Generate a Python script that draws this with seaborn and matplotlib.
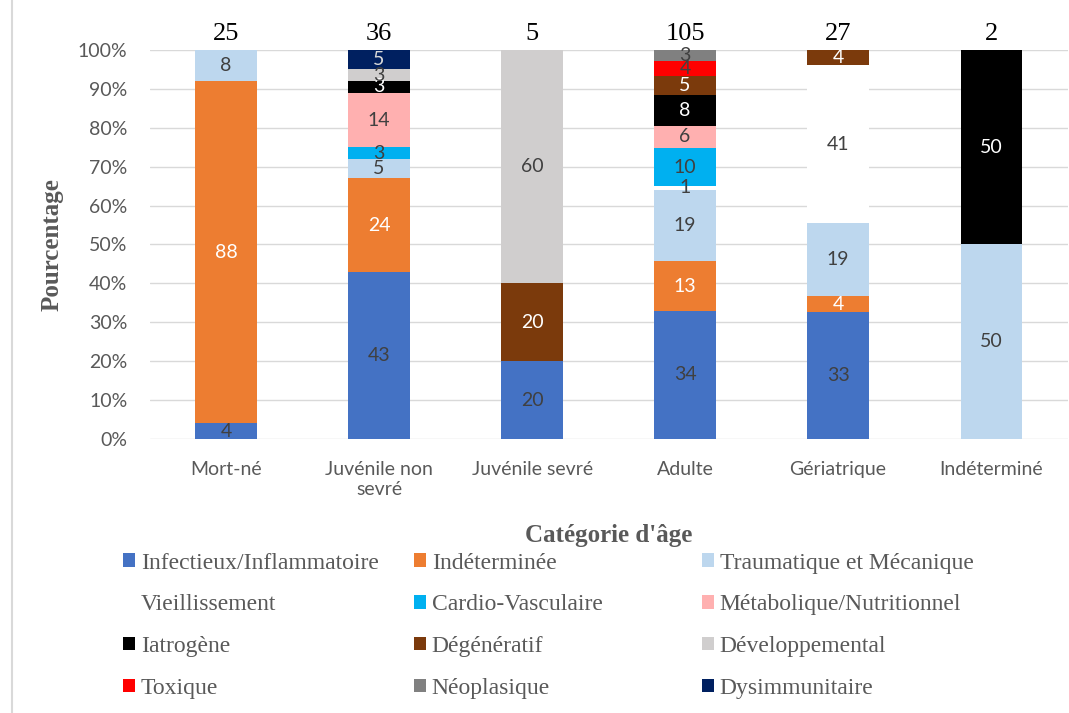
import numpy as np
import matplotlib.pyplot as plt
import matplotlib.patches as mpatches
from matplotlib.lines import Line2D
from matplotlib.ticker import PercentFormatter
import seaborn as sns

# catégories d'âge et effectifs (nombre de cas) affichés au-dessus des barres
categories = ['Mort-né', 'Juvénile non\nsevré', 'Juvénile sevré', 'Adulte', 'Gériatrique', 'Indéterminé']
effectifs = [25, 36, 5, 105, 27, 2]

causes = ['Infectieux/Inflammatoire', 'Indéterminée', 'Traumatique et Mécanique',
          'Vieillissement', 'Cardio-Vasculaire', 'Métabolique/Nutritionnel',
          'Iatrogène', 'Dégénératif', 'Développemental',
          'Toxique', 'Néoplasique', 'Dysimmunitaire']

# pourcentages par cause (un élément par catégorie d'âge)
infectieux = [4, 43, 20, 34, 33, 0]
indeterminee = [88, 24, 0, 13, 4, 0]
traumatique = [8, 5, 0, 19, 19, 50]
vieillissement = [0, 0, 0, 1, 41, 0]
cardio = [0, 3, 0, 10, 0, 0]
metabolique = [0, 14, 0, 6, 0, 0]
iatrogene = [0, 3, 0, 8, 0, 50]
degeneratif = [0, 0, 20, 5, 4, 0]
developpemental = [0, 3, 60, 0, 0, 0]
toxique = [0, 0, 0, 4, 0, 0]
neoplasique = [0, 0, 0, 3, 0, 0]
dysimmunitaire = [0, 5, 0, 0, 0, 0]

couleurs = ['#4472C4', '#ED7D31', '#BDD7EE', '#FFFFFF', '#00B0F0', '#FFB0B0',
            '#000000', '#7B3A0C', '#D0CECE', '#FF0000', '#808080', '#002060']
couleurs_texte = ['#404040', '#FFFFFF', '#404040', '#404040', '#404040', '#404040',
                  '#FFFFFF', '#FFFFFF', '#404040', '#404040', '#404040', '#D9D9D9']

series = [infectieux, indeterminee, traumatique, vieillissement, cardio, metabolique,
          iatrogene, degeneratif, developpemental, toxique, neoplasique, dysimmunitaire]

pct = np.array(series, dtype=float)
# comme dans Excel (100 % empilé) : chaque colonne est ramenée à 100 %
pct_norm = pct / pct.sum(axis=0)

sns.set_theme(style='white')
plt.rcParams['font.family'] = ['Lato', 'DejaVu Sans']

fig = plt.figure(figsize=(10.69, 7.13), dpi=100)
ax = fig.add_axes([0.1399, 0.3843, 0.8588, 0.5456])

bas = np.zeros(len(categories))
for i, cause in enumerate(causes):
    sns.barplot(x=categories, y=pct_norm[i], bottom=bas.copy(), color=couleurs[i],
                order=categories, width=0.4, errorbar=None, saturation=1,
                linewidth=0, ax=ax)
    for j in range(len(categories)):
        if pct[i, j] > 0:
            ax.text(j, bas[j] + pct_norm[i, j] / 2, f'{pct[i, j]:.0f}',
                    ha='center', va='center', color=couleurs_texte[i], fontsize=14)
    bas += pct_norm[i]

# effectifs au-dessus
for j, n in enumerate(effectifs):
    ax.text(j, 1.04, str(n), ha='center', va='center', fontsize=19,
            family='Liberation Serif', color='black', clip_on=False)

ax.set_xlim(-0.5, 5.5)
ax.set_ylim(0, 1)
ax.set_yticks(np.arange(0, 1.01, 0.1))
ax.yaxis.set_major_formatter(PercentFormatter(1.0, decimals=0))
ax.yaxis.grid(True, color='#D9D9D9', lw=1)
ax.set_axisbelow(True)
for s in ax.spines.values():
    s.set_visible(False)
ax.tick_params(axis='both', length=0, labelsize=14, colors='#595959')
ax.tick_params(axis='y', pad=16)
ax.tick_params(axis='x', pad=16)

ax.set_xlabel("Catégorie d'âge", fontsize=18, fontweight='bold', family='Liberation Serif',
              color='#595959', labelpad=19)
ax.set_ylabel('Pourcentage', fontsize=18, fontweight='bold', family='Liberation Serif',
              color='#595959', labelpad=10)

# légende sur 3 colonnes de largeur égale (comme Excel)
x_cols = [123 / 1069, 414 / 1069, 702 / 1069]
for c in range(3):
    idx = [c, c + 3, c + 6, c + 9]
    handles = [mpatches.Patch(facecolor=couleurs[k], edgecolor='none', label=causes[k]) for k in idx]
    fig.legend(handles=handles, loc='upper left', bbox_to_anchor=(x_cols[c], 0.225),
               frameon=False, borderpad=0, borderaxespad=0, handlelength=0.5,
               handleheight=0.5, handletextpad=0.25, labelspacing=0.88,
               prop={'family': 'Liberation Serif', 'size': 17}, labelcolor='#595959')

fig.add_artist(Line2D([12 / 1069, 12 / 1069], [0, 1], color='#D9D9D9', lw=1.5))

fig.savefig('out.png', dpi=100)
